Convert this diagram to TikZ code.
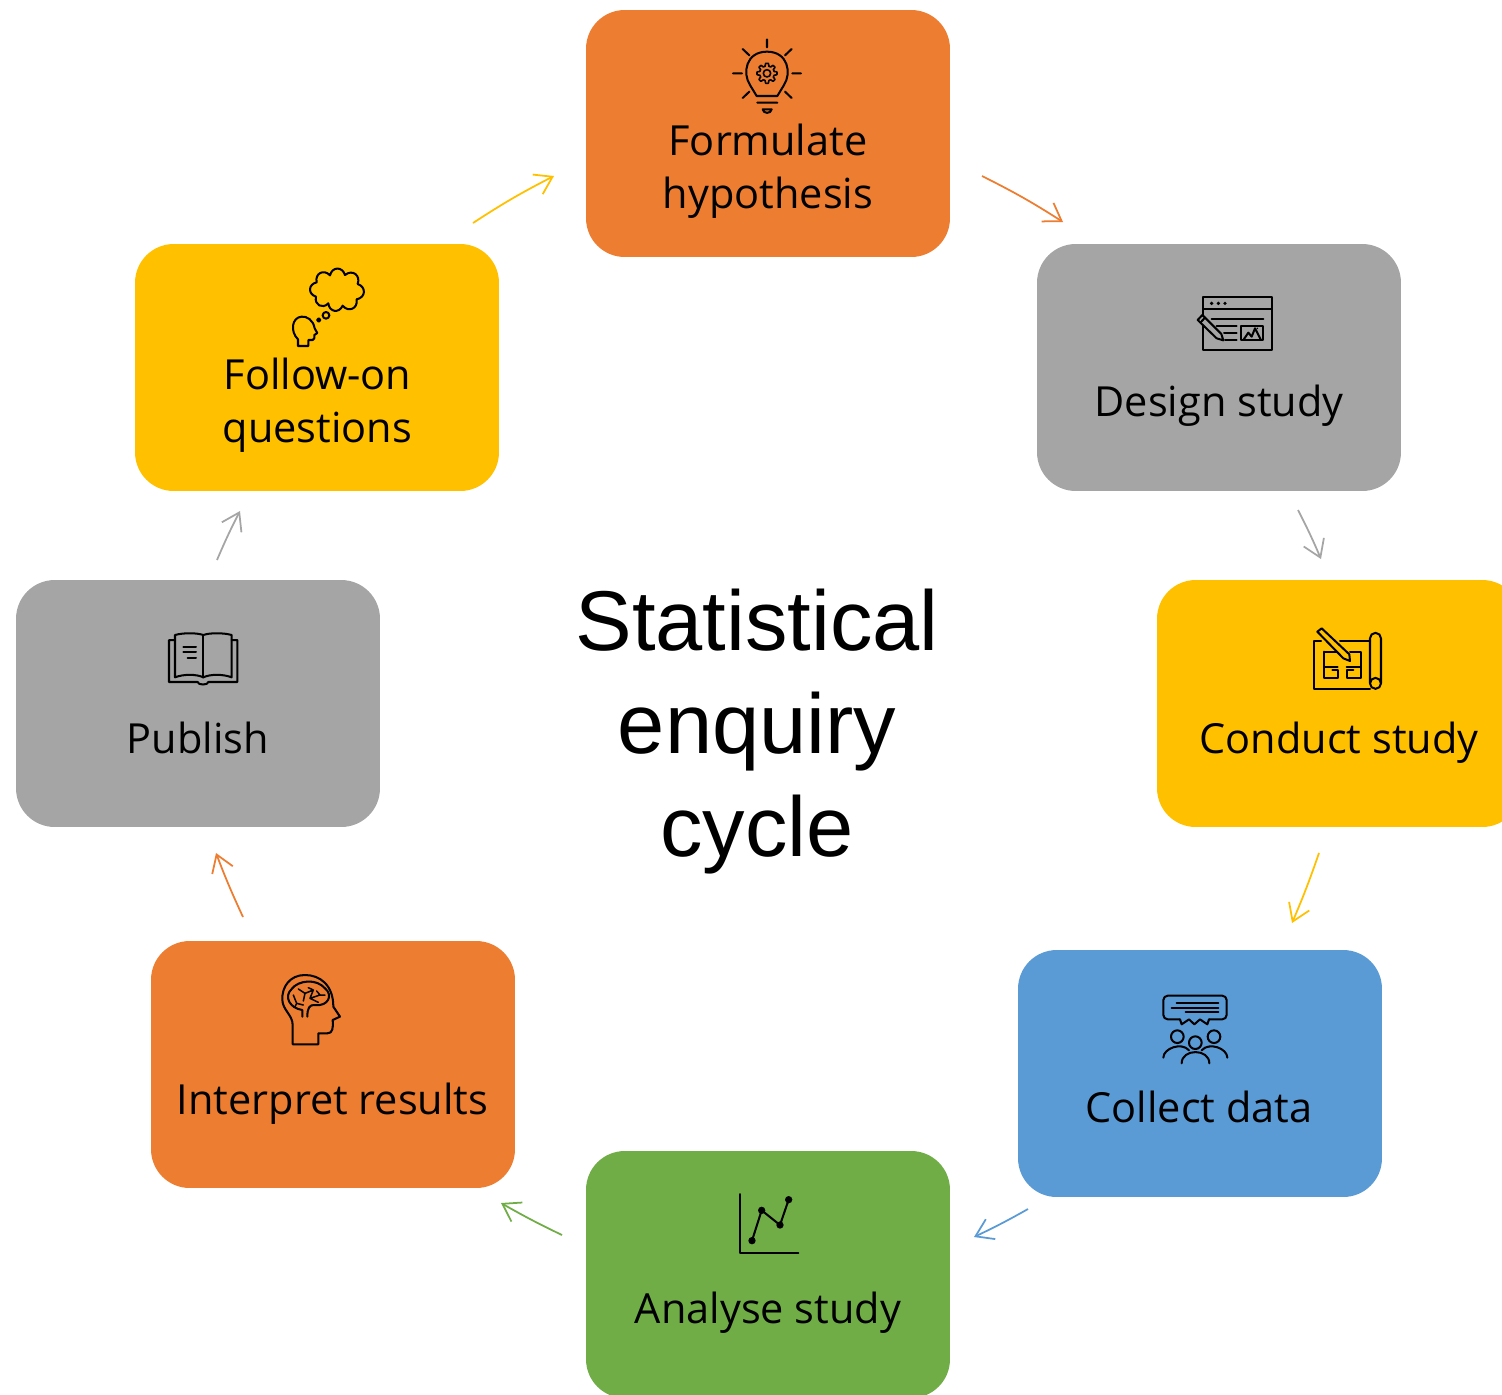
\documentclass[tikz,border=0pt]{standalone}
\usepackage{fontspec}
\setmainfont{Open Sans}
\newfontfamily\titlefont{Liberation Sans}
\usetikzlibrary{arrows.meta}
\definecolor{cOrange}{HTML}{ED7D31}
\definecolor{cGray}{HTML}{A5A5A5}
\definecolor{cGold}{HTML}{FFC000}
\definecolor{cBlue}{HTML}{5B9BD5}
\definecolor{cGreen}{HTML}{70AD47}
\tikzset{
  x=0.02cm,y=-0.02cm,
  card/.style={rectangle,rounded corners=22pt,minimum width=7.28cm,minimum height=4.94cm,inner sep=0pt,fill=#1,draw=none},
  lbl/.style={align=center,inner sep=0pt,font=\fontsize{23.6}{30.4}\selectfont,text=black},
  ttl/.style={align=center,inner sep=0pt,font=\titlefont\fontsize{48.3}{58.8}\selectfont,text=black},
  flow/.style={draw=#1,line width=1pt,-{Straight Barb[length=9.5pt,width=12.5pt,line width=1pt]}},
  ico/.style={line width=1.15pt,draw=black,line cap=round,line join=round},
  bump/.style={bend left=75,looseness=1.55},
}
\begin{document}
\begin{tikzpicture}
\useasboundingbox (0,0) rectangle (1502,1394);
\clip (0,0) rectangle (1502,1394);
% cards
\node[card=cOrange] (hyp) at (768,133.5) {};
\node[card=cGray]   (des) at (1219,367.5) {};
\node[card=cGold]   (con) at (1339,703.5) {};
\node[card=cBlue]   (col) at (1200,1073.5) {};
\node[card=cGreen]  (ana) at (768,1274.5) {};
\node[card=cOrange] (int) at (333,1064.5) {};
\node[card=cGray]   (pub) at (198,703.5) {};
\node[card=cGold]   (fol) at (317,367.5) {};
% labels
\node[lbl] (lhyp) at (768,171.5) {Formulate\\hypothesis};
\node[lbl] (ldes) at (1219,406) {Design study};
\node[lbl] (lcon) at (1339,743) {Conduct study};
\node[lbl] (lcol) at (1199,1107) {Collect data};
\node[lbl] (lana) at (768,1312.5) {Analyse study};
\node[lbl] (lint) at (332.5,1103.5) {Interpret results};
\node[lbl] (lpub) at (198,738) {Publish};
\node[lbl] (lfol) at (317.5,405) {Follow-on\\questions};
\node[ttl] (title) at (757,731.5) {Statistical\\enquiry\\cycle};
% arrows
\coordinate (a1s) at (982,176);   \coordinate (a1e) at (1063,222);
\coordinate (a2s) at (1298,510);  \coordinate (a2e) at (1321,559);
\coordinate (a3s) at (1319,853);  \coordinate (a3e) at (1292,923);
\coordinate (a4s) at (1028,1209); \coordinate (a4e) at (974,1237);
\coordinate (a5s) at (562,1235);  \coordinate (a5e) at (501,1203);
\coordinate (a6s) at (243,917);   \coordinate (a6e) at (216,853);
\coordinate (a7s) at (217,560);   \coordinate (a7e) at (240,511);
\coordinate (a8s) at (473,223);   \coordinate (a8e) at (554,176);
\draw[flow=cOrange] (a1s) to[bend left=3] (a1e);
\draw[flow=cGray]   (a2s) to[bend left=2] (a2e);
\draw[flow=cGold]   (a3s) to[bend left=2] (a3e);
\draw[flow=cBlue]   (a4s) to[bend left=2] (a4e);
\draw[flow=cGreen]  (a5s) to[bend left=2] (a5e);
\draw[flow=cOrange] (a6s) to[bend left=2] (a6e);
\draw[flow=cGray]   (a7s) to[bend left=2] (a7e);
\draw[flow=cGold]   (a8s) to[bend left=3] (a8e);
% bulb
\begin{scope}[shift={(700,30)},scale=0.3333,ico]
\draw (201,28)--(201,52) (99,130)--(126,130) (277,130)--(303,130)
      (128,57)--(148,76) (275,57)--(255,76) (128,204)--(148,185) (275,204)--(255,185)
      (172,218)--(232,218);
\draw (170,198)--(232,198)--(252,165) .. controls (275,130) and (265,65) .. (201,65) .. controls (137,65) and (127,130) .. (150,165)--cycle;
\draw (188,238)--(215,238) .. controls (213,252) and (190,252) .. (188,238)--cycle;
\draw[line width=0.9pt] plot[samples=145,domain=0:360] ({201+(26+4*min(1,max(-1,2.2*cos(8*\x))))*cos(\x)},{130+(26+4*min(1,max(-1,2.2*cos(8*\x))))*sin(\x)})--cycle;
\draw[line width=0.9pt] (201,130) circle[radius=11];
\end{scope}
% design
\begin{scope}[shift={(1180,285)},scale=0.3333,ico]
\draw (70,37) rectangle (275,195);
\draw (70,72)--(275,72) (95,102)--(250,102) (110,122)--(170,122) (132,143)--(170,143) (135,165)--(170,165);
\fill (95,55) circle[radius=5.5] (115,55) circle[radius=5.5] (135,55) circle[radius=5.5] (232,130) circle[radius=2.5];
\draw (182,122) rectangle (250,166);
\draw (190,165)--(205,143)--(215,155)--(225,130)--(243,165);
\draw[fill=cGray] (53,105)--(67,90)--(124,147)--(130,166)--(110,160)--cycle;
\draw (62,112)--(75,98);
\end{scope}
% conduct
\begin{scope}[shift={(1295,615)},scale=0.3333,ico]
\draw (78,78)--(57,78)--(57,222)--(225,222);
\draw (135,78)--(225,78);
\draw (225,205)--(225,70) arc[start angle=180,end angle=360,radius=16.5] --(258,205);
\draw (241.5,205) circle[radius=16.5];
\draw (88,110)--(135,110) (88,110)--(88,190)--(130,190)--(130,165)--(112,165) (88,155)--(128,155);
\draw (165,110)--(197,110)--(197,190)--(155,190)--(155,165)--(175,165) (155,155)--(197,155);
\draw[fill=cGold] (67,50)--(80,40)--(163,118)--(165,138)--(145,130)--cycle;
\end{scope}
% collect
\begin{scope}[shift={(1145,985)},scale=0.3333,ico]
\draw[rounded corners=2.5pt] (105,103)--(55,103)--(55,32)--(245,32)--(245,103)--(192,103);
\draw (105,103)--(110,118)--(132,103)--(148,118)--(165,103)--(187,118)--(192,103);
\draw (95,55)--(220,55) (80,68)--(220,68) (122,82)--(220,82);
\draw (97,155) circle[radius=19] (207,155) circle[radius=19] (151,173) circle[radius=19];
\draw (55,218) .. controls (55,190) and (110,170) .. (132,196);
\draw (170,196) .. controls (192,170) and (247,190) .. (247,218);
\draw (110,235) .. controls (110,190) and (193,190) .. (193,235);
\end{scope}
% analyse
\begin{scope}[shift={(725,1185)},scale=0.3333,ico]
\draw (44,27)--(44,205)--(220,205);
\draw (81,167)--(110,76)--(165,120)--(191,44);
\fill (81,167) circle[radius=11] (110,76) circle[radius=11] (165,120) circle[radius=11] (191,44) circle[radius=11];
\end{scope}
% brain
\begin{scope}[shift={(270,965)},scale=0.3333,ico]
\draw (68,238)--(145,238)--(145,205)--(172,205) .. controls (188,205) and (190,190) .. (188,165)--(210,155)--(190,125) .. controls (190,60) and (150,30) .. (105,30) .. controls (60,30) and (35,65) .. (37,105) .. controls (38,135) and (68,150) .. (68,180)--cycle;
\draw (97,155)--(97,135) .. controls (60,130) and (40,95) .. (65,72) .. controls (85,45) and (140,40) .. (165,70) .. controls (190,90) and (175,125) .. (135,120) .. controls (118,118) and (112,130) .. (112,155);
\draw[line width=0.85pt] (70,90)--(80,115)--(100,120) (85,72)--(105,85)--(100,108) (105,85)--(130,75) (115,68)--(130,75)--(120,100)--(150,90)--(165,90) (120,100)--(145,112) (150,90)--(140,78) (80,115)--(75,125);
\end{scope}
% book
\begin{scope}[shift={(155,620)},scale=0.3333,ico]
\draw (60,60)--(42,60)--(42,186)--(128,186) .. controls (128,196) and (160,196) .. (160,186)--(247,186)--(247,60)--(230,60);
\draw (145,45) .. controls (125,38) and (85,38) .. (60,45)--(60,172) .. controls (85,162) and (125,162) .. (145,172) .. controls (165,162) and (205,162) .. (230,172)--(230,45) .. controls (205,38) and (165,38) .. (145,45)--cycle;
\draw (145,45)--(145,172);
\draw (85,80)--(123,80) (85,96)--(123,96) (98,113)--(123,113);
\end{scope}
% thought
\begin{scope}[shift={(280,260)},scale=0.3333,ico]
\draw (110,67) to[bump] (150,46) to[bump] (195,45) to[bump] (233,72) to[bump] (230,118) to[bump] (188,137) to[bump] (145,130) to[bump] (108,110) to[bump] cycle;
\draw (138,166) circle[radius=10] (116,180) circle[radius=5];
\draw (54,238)--(54,258)--(85,258)--(85,240)--(98,240) .. controls (103,240) and (104,232) .. (103,225)--(112,219)--(104,205) .. controls (100,180) and (80,168) .. (65,170) .. controls (35,172) and (30,215) .. (54,238);
\end{scope}
\end{tikzpicture}
\end{document}
